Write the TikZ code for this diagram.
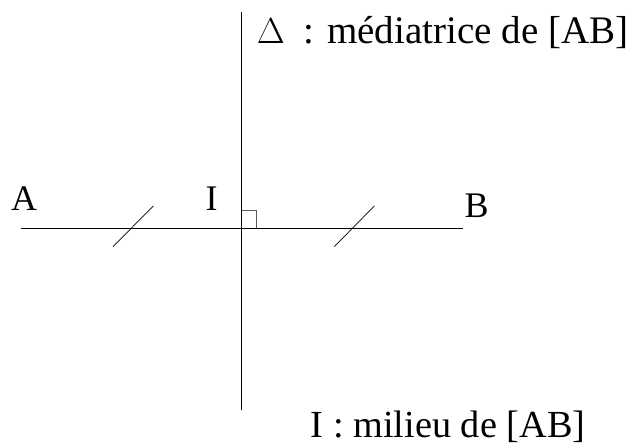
\documentclass[tikz,border=0pt]{standalone}
\usepackage{graphicx}
\usepackage{fontspec}
\setmainfont{Liberation Serif}
\newcommand{\bigDelta}{\resizebox{28pt}{!}{$\Delta$}}
\begin{document}
\begin{tikzpicture}[x=1pt,y=1pt,
  ln/.style={line width=0.9pt},
  lbl/.style={inner sep=0pt,font=\fontsize{36}{42}\selectfont},
  txt/.style={inner sep=0pt,font=\fontsize{38.3}{44}\selectfont},
  ttxt/.style={inner sep=0pt,font=\fontsize{39}{45}\selectfont}]
\useasboundingbox (0,0) rectangle (631,446);
% points (y = 446 - pixel y)
\coordinate (A0) at (20.7,217.7);
\coordinate (B0) at (463.3,217.7);
\coordinate (Dtop) at (241.5,434.3);
\coordinate (Dbot) at (241.5,36);
\draw[ln] (A0) -- (B0);
\draw[ln] (Dtop) -- (Dbot);
% right angle
\coordinate (R1) at (241.5,236);
\coordinate (R2) at (256.7,236);
\coordinate (R3) at (256.7,217.7);
\draw[line width=0.8pt,black!65] (R1) -- (R2) -- (R3);
% ticks
\coordinate (T1a) at (113,199.3);
\coordinate (T1b) at (153.3,240);
\coordinate (T2a) at (334.3,199.3);
\coordinate (T2b) at (374.3,240);
\draw[line width=0.7pt] (T1a) -- (T1b);
\draw[line width=0.7pt] (T2a) -- (T2b);
% labels
\node[lbl,anchor=base west] (lA) at (11,235) {A};
\node[lbl,anchor=base west] (lI) at (205.5,235) {I};
\node[lbl,anchor=base west] (lB) at (464.5,228.7) {B};
\node[ttxt,anchor=base east] (ttop) at (628.5,402) {\bigDelta\hspace{8.75pt} : médiatrice de [AB]};
\node[txt,anchor=base east] (tbot) at (585.5,8.5) {I : milieu de [AB]};
\end{tikzpicture}
\end{document}
